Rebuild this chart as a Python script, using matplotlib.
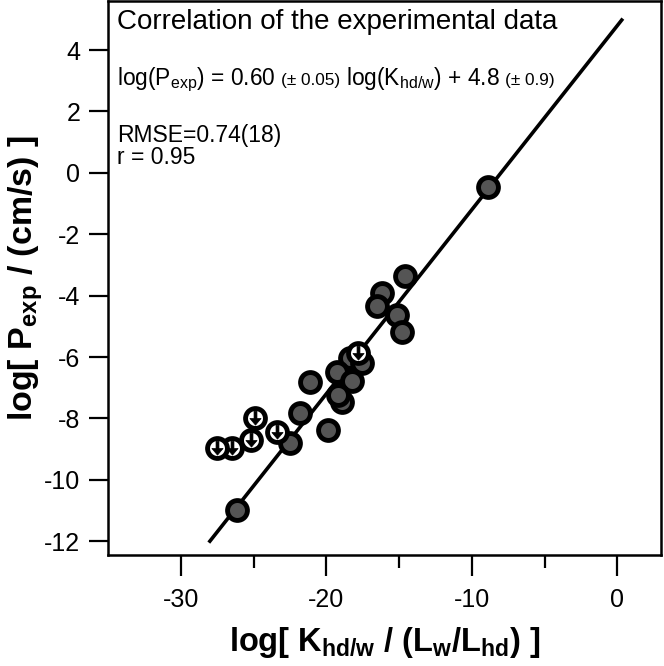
import numpy as np
import matplotlib
matplotlib.use("Agg")
import matplotlib.pyplot as plt
from matplotlib.path import Path

plt.rcParams['font.family'] = ['Liberation Sans', 'DejaVu Sans']
plt.rcParams['mathtext.default'] = 'regular'
plt.rcParams['axes.unicode_minus'] = False

# measured points (filled grey)
log_k = [-8.86, -14.57, -16.15, -16.5, -15.12, -14.78, -18.36, -17.53, -19.25,
         -18.22, -21.1, -18.9, -19.18, -21.8, -19.87, -22.48, -26.13]
log_p = [-0.47, -3.37, -3.92, -4.35, -4.64, -5.19, -6.04, -6.2, -6.5,
         -6.79, -6.82, -7.47, -7.25, -7.83, -8.39, -8.81, -11.0]

# upper limits (white with down arrow)
lim_k = [-17.8, -24.9, -23.4, -25.2, -26.5, -27.5]
lim_p = [-5.88, -8.0, -8.45, -8.72, -8.98, -8.98]

# fit: log(P) = 0.60 log(K) + 4.8
slope = 0.60
intercept = 4.8
fit_range = [-28.0, 0.3]

fig = plt.figure(figsize=(6.64, 6.66), dpi=100)
ax = fig.add_axes([0.1627, 0.1667, 0.8328, 0.8318])

xl = np.array(fit_range)
ax.plot(xl, slope * xl + intercept, color='black', lw=2.6, zorder=1)

ax.plot(log_k, log_p, 'o', ms=14.3, mfc='#555555', mec='black', mew=3.5, zorder=2)
ax.plot(lim_k, lim_p, 'o', ms=14.3, mfc='white', mec='black', mew=3.5, zorder=3)

# little down arrow inside the white circles
arrow = Path([(-0.11, 0.55), (0.11, 0.55), (0.11, 0.0), (0.42, 0.0), (0.0, -0.5),
              (-0.42, 0.0), (-0.11, 0.0), (-0.11, 0.55)],
             [Path.MOVETO] + [Path.LINETO] * 6 + [Path.CLOSEPOLY])
ax.plot(lim_k, lim_p, linestyle='none', marker=arrow, ms=10.5, mfc='black', mec='black',
        mew=0.5, zorder=4)

ax.set_xlim(-35, 3)
ax.set_ylim(-12.45, 5.6)
ax.set_xticks([-30, -20, -10, 0])
ax.set_xticks([-25, -15, -5], minor=True)
ax.set_yticks(np.arange(-12, 5, 2))

for s in ax.spines.values():
    s.set_linewidth(1.8)
ax.tick_params(axis='both', which='major', direction='out', length=14, width=1.6,
               labelsize=18, pad=6)
ax.tick_params(axis='x', which='minor', direction='out', length=9, width=1.6)
ax.tick_params(axis='x', which='major', length=15, pad=9)

ax.set_xlabel(r'log[ K$_{hd/w}$ / (L$_w$/L$_{hd}$) ]', fontsize=23.5, fontweight='bold',
              labelpad=9)
ax.set_ylabel(r'log[ P$_{exp}$ / (cm/s) ]', fontsize=24.5, fontweight='bold')
ax.yaxis.set_label_coords(-0.114, 0.5)

tx = 0.016
ax.text(tx, 0.950, 'Correlation of the experimental data', transform=ax.transAxes,
        fontsize=20, va='baseline')

y_eq = 0.848
t1 = ax.text(tx, y_eq, r'log(P$_{exp}$) = 0.60', transform=ax.transAxes,
             fontsize=16.4, va='baseline')
t2 = ax.annotate('(± 0.05)', xy=(1, y_eq), xycoords=(t1, 'axes fraction'),
                 xytext=(4, 0), textcoords='offset points', fontsize=12.4, va='baseline')
t3 = ax.annotate(r'log(K$_{hd/w}$) + 4.8', xy=(1, y_eq), xycoords=(t2, 'axes fraction'),
                 xytext=(4, 0), textcoords='offset points', fontsize=16.4, va='baseline')
ax.annotate('(± 0.9)', xy=(1, y_eq), xycoords=(t3, 'axes fraction'),
            xytext=(4, 0), textcoords='offset points', fontsize=12.4, va='baseline')

ax.text(tx, 0.745, 'RMSE=0.74(18)', transform=ax.transAxes, fontsize=16.5, va='baseline')
ax.text(tx, 0.705, 'r = 0.95', transform=ax.transAxes, fontsize=16.5, va='baseline')

fig.savefig('out.png', dpi=100)
